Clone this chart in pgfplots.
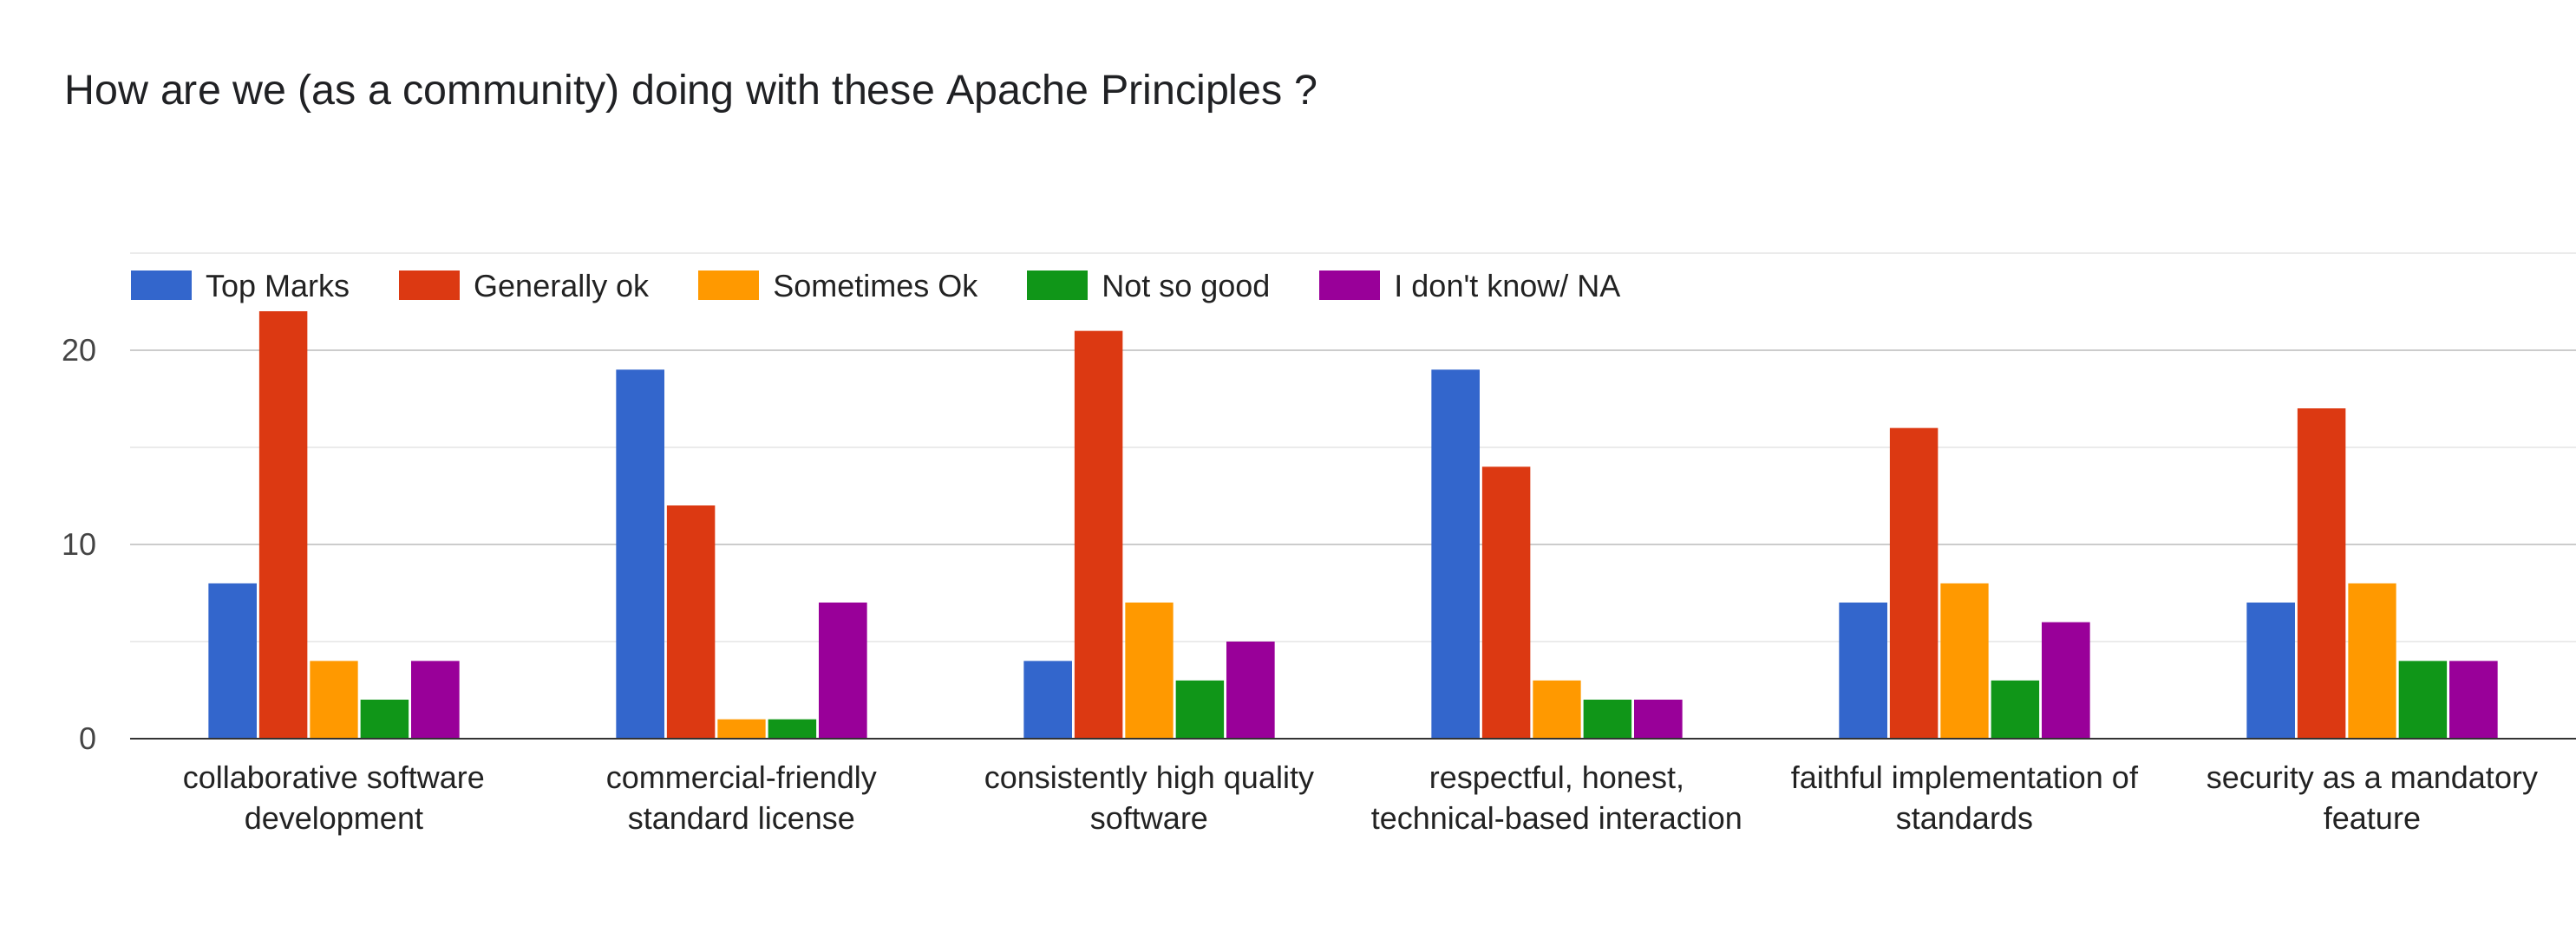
\documentclass[border=0pt]{standalone}
\usepackage{fontspec}
\setmainfont{Liberation Sans}
\usepackage{pgfplots}
\pgfplotsset{compat=1.18}
\definecolor{cBlue}{HTML}{3366CC}
\definecolor{cRed}{HTML}{DC3912}
\definecolor{cOrange}{HTML}{FF9900}
\definecolor{cGreen}{HTML}{109618}
\definecolor{cPurple}{HTML}{990099}
\definecolor{gMajor}{HTML}{CCCCCC}
\definecolor{gMinor}{HTML}{EBEBEB}
\definecolor{txt}{HTML}{222222}
\definecolor{tick}{HTML}{444444}
\definecolor{ttl}{HTML}{202124}
\begin{document}
\begin{tikzpicture}
\useasboundingbox (0,0) rectangle (742.5pt,268.5pt);
\begin{axis}[
  at={(37.5pt,55.5pt)}, anchor=south west,
  scale only axis, width=705pt, height=140pt,
  ybar=0.75pt, bar width=0.118,
  xmin=-0.5, xmax=5.5, ymin=0, ymax=25,
  enlargelimits=false,
  axis line style={draw=none},
  xtick={0,1,2,3,4,5},
  xticklabels={{collaborative software\\development},
               {commercial-friendly\\standard license},
               {consistently high quality\\software},
               {respectful, honest,\\technical-based interaction},
               {faithful implementation of\\standards},
               {security as a mandatory\\feature}},
  xticklabel style={align=center, inner sep=0pt, anchor=north, yshift=-7.75pt,
    font=\fontsize{9pt}{11.75pt}\selectfont, text=txt},
  ytick={0,10,20}, minor ytick={5,15,25},
  ymajorgrids, yminorgrids,
  major grid style={draw=gMajor, line width=0.5pt},
  minor grid style={draw=gMinor, line width=0.5pt},
  major tick length=0pt, minor tick length=0pt,
  tick style={draw=none},
  yticklabel style={inner sep=0pt, anchor=east, xshift=-9.5pt,
    font=\fontsize{9pt}{11pt}\selectfont, text=tick},
  /pgf/number format/assume math mode=true,
  every axis title shift=0pt,
  title={How are we (as a community) doing with these Apache Principles ?},
  title style={at={(axis description cs:-0.02695,1.3071)}, anchor=base west,
    inner sep=0pt, font=\fontsize{12.1pt}{14pt}\selectfont, text=ttl},
  legend columns=-1,
  legend style={draw=none, fill=none, inner sep=0pt, outer sep=0pt,
    at={(axis cs:-0.4975,23.3)}, anchor=west,
    font=\fontsize{9pt}{11pt}\selectfont, text=txt,
    nodes={inner sep=0pt},
    /tikz/every odd column/.append style={column sep=4pt},
    /tikz/every even column/.append style={column sep=14.25pt}},
  legend image code/.code={\fill[#1] (0pt,-3.5pt) rectangle (17.5pt,5pt);},
]
\addplot[fill=cBlue, draw=none] coordinates {(0,8) (1,19) (2,4) (3,19) (4,7) (5,7)};
\addplot[fill=cRed, draw=none] coordinates {(0,22) (1,12) (2,21) (3,14) (4,16) (5,17)};
\addplot[fill=cOrange, draw=none] coordinates {(0,4) (1,1) (2,7) (3,3) (4,8) (5,8)};
\addplot[fill=cGreen, draw=none] coordinates {(0,2) (1,1) (2,3) (3,2) (4,3) (5,4)};
\addplot[fill=cPurple, draw=none] coordinates {(0,4) (1,7) (2,5) (3,2) (4,6) (5,4)};
\legend{Top Marks, Generally ok, Sometimes Ok, Not so good, I don\textquotesingle t know/ NA}
\draw[draw=black!80, line width=0.65pt] (axis cs:-0.5,0) -- (axis cs:5.5,0);
\end{axis}
\end{tikzpicture}
\end{document}
